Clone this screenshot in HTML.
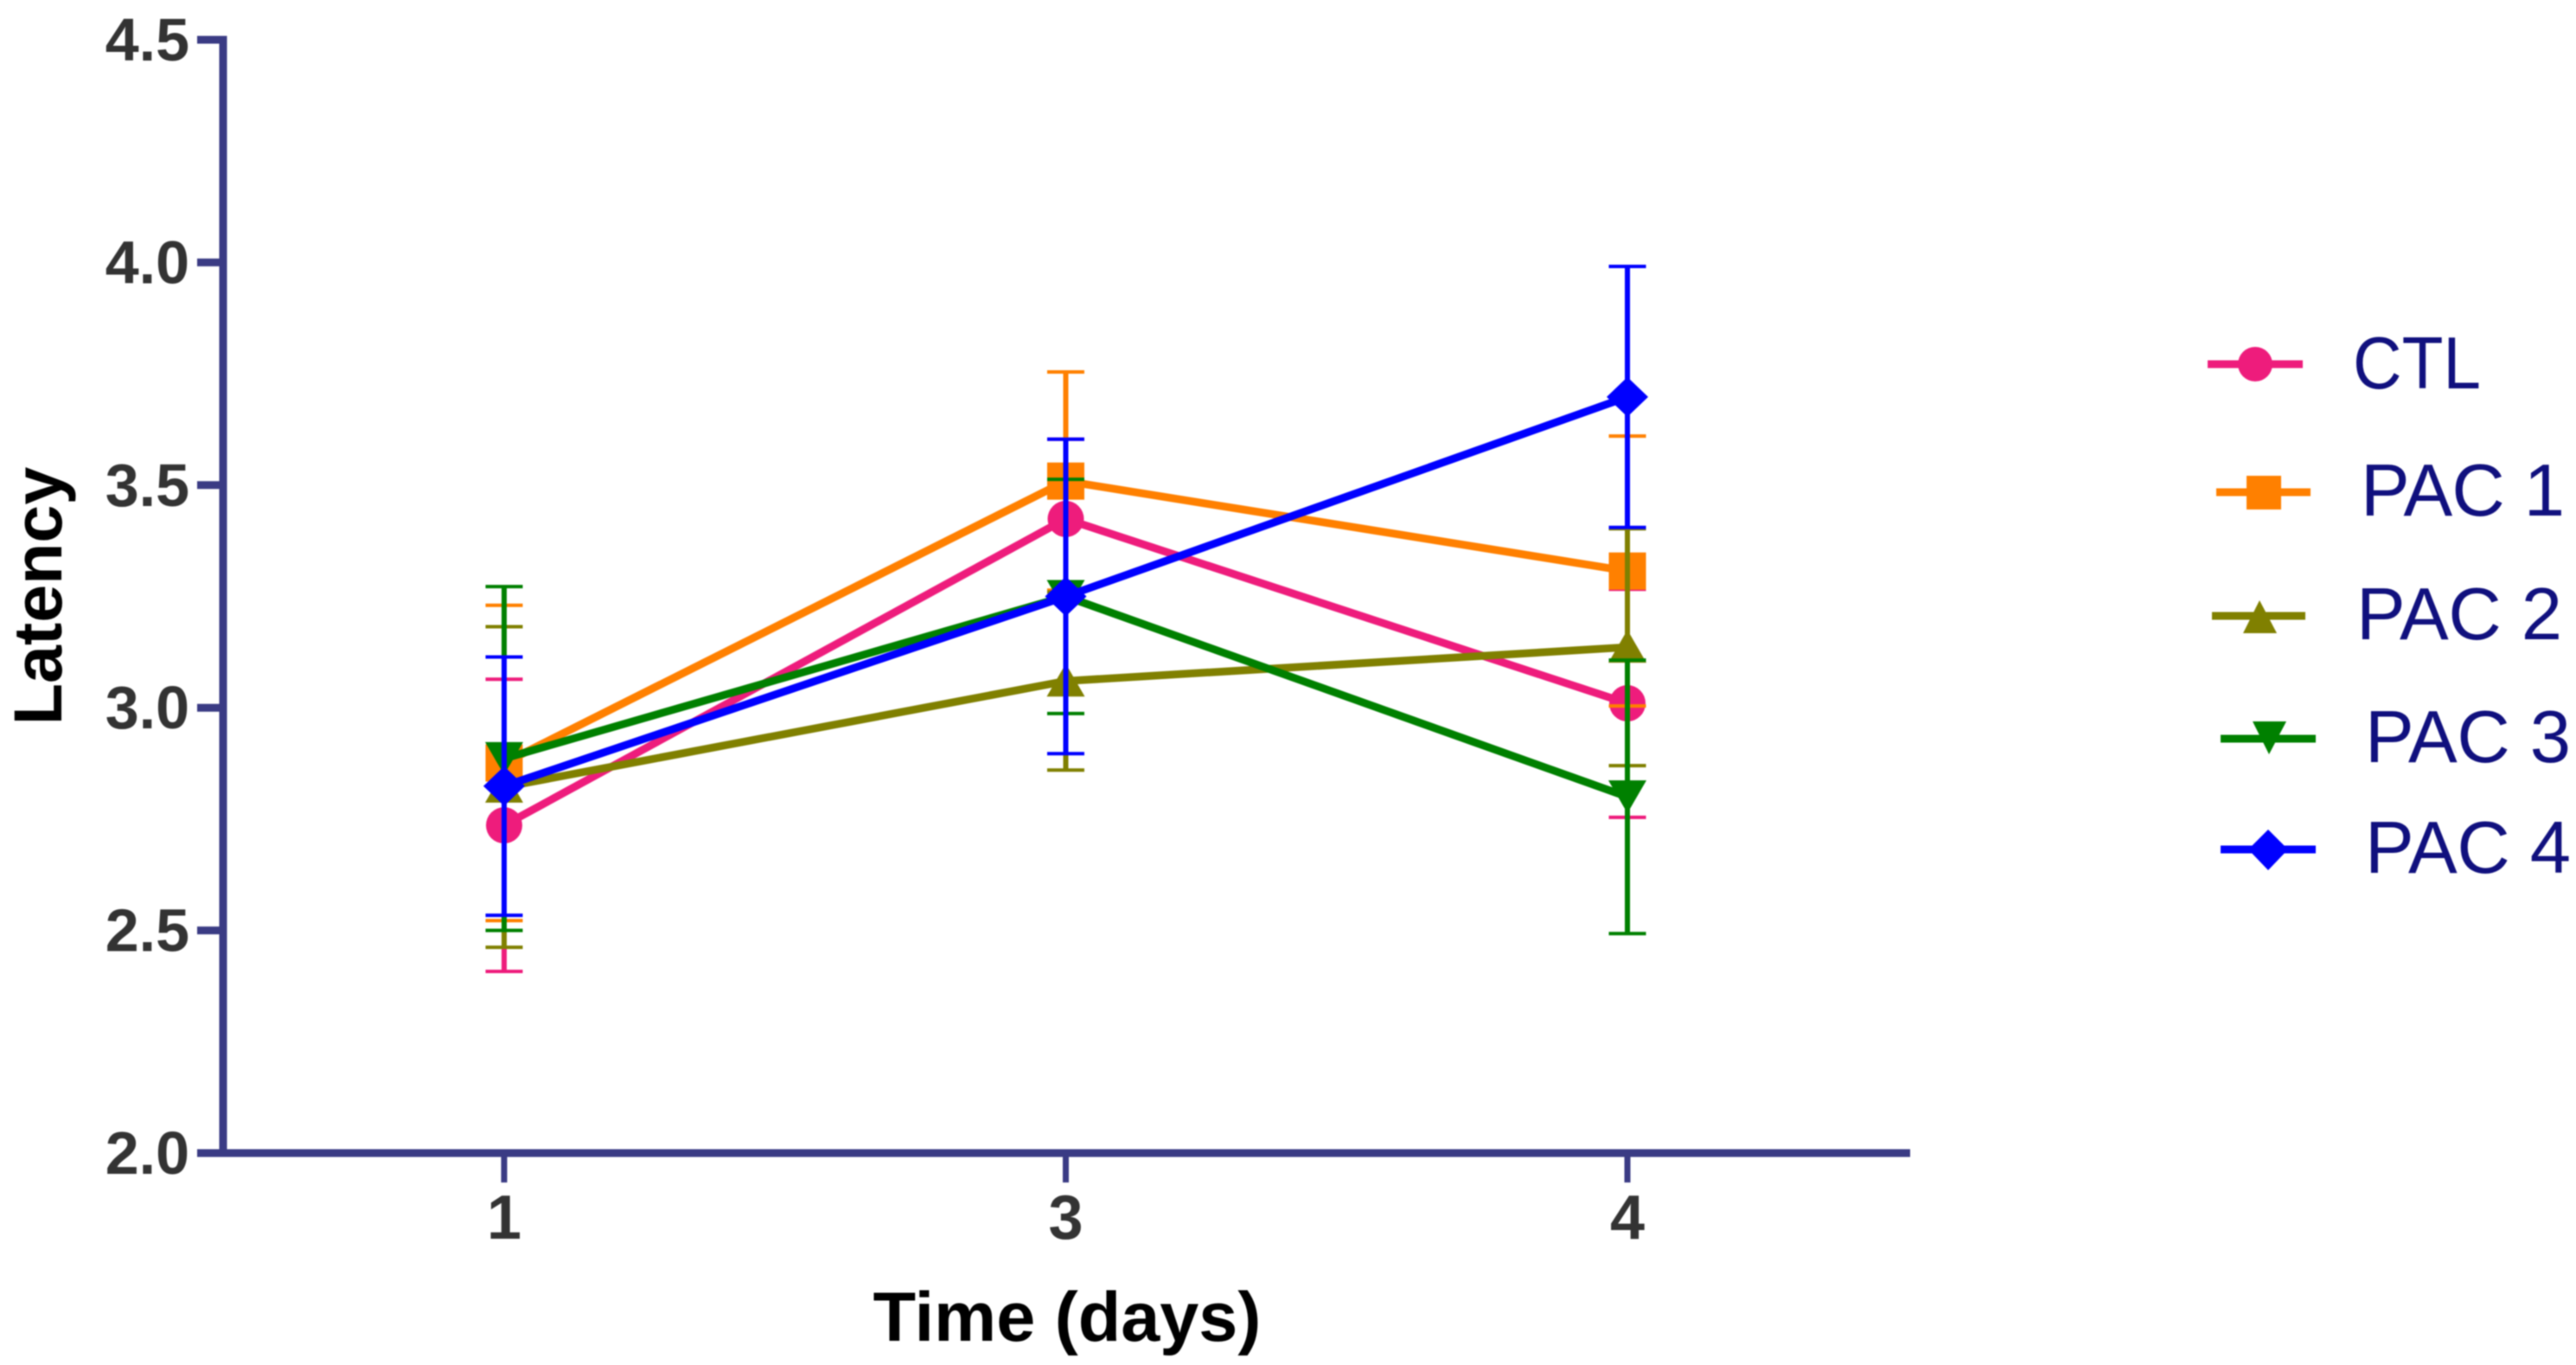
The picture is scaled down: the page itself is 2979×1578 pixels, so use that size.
<!DOCTYPE html>
<html lang="en">
<head>
<meta charset="utf-8">
<title>Latency over time</title>
<style>
  html, body { margin: 0; padding: 0; background: #fff; }
  body { width: 2979px; height: 1578px; overflow: hidden; }
  svg { display: block; filter: blur(0.9px); }
  text { font-family: "Liberation Sans", Arial, sans-serif; }
</style>
</head>
<body>
<svg id="chart" xmlns="http://www.w3.org/2000/svg" width="2979" height="1578" viewBox="0 0 2979 1578">
  <rect x="0" y="0" width="2979" height="1578" fill="#ffffff"/>
  <g id="axes"></g>
  <g id="plot"></g>

  <text transform="translate(71 689) rotate(-90)" text-anchor="middle" font-size="79" font-weight="700" fill="#000">Latency</text>
  <text x="1234" y="1550" text-anchor="middle" font-size="81" font-weight="700" fill="#000">Time (days)</text>

  <g fill="#10107e" font-size="85">
    <g>
      <line x1="2553" y1="421" x2="2663" y2="421" stroke="#ee1c7c" stroke-width="9"/>
      <circle cx="2608" cy="421" r="20" fill="#ee1c7c"/>
      <text x="2721" y="449" textLength="148" lengthAdjust="spacingAndGlyphs">CTL</text>
    </g>
    <g>
      <line x1="2563" y1="569" x2="2672" y2="569" stroke="#ff8000" stroke-width="9"/>
      <rect x="2598" y="550" width="40" height="39" fill="#ff8000"/>
      <text x="2730" y="596" textLength="236" lengthAdjust="spacing">PAC 1</text>
    </g>
    <g>
      <line x1="2558" y1="712" x2="2666" y2="712" stroke="#808000" stroke-width="9"/>
      <polygon points="2613,694 2633,732 2594,732" fill="#808000"/>
      <text x="2725" y="739" textLength="238" lengthAdjust="spacing">PAC 2</text>
    </g>
    <g>
      <line x1="2568" y1="854" x2="2678" y2="854" stroke="#008000" stroke-width="9"/>
      <polygon points="2605,834 2644,834 2624,872" fill="#008000"/>
      <text x="2735" y="881" textLength="238" lengthAdjust="spacing">PAC 3</text>
    </g>
    <g>
      <line x1="2568" y1="982" x2="2678" y2="982" stroke="#0000ff" stroke-width="9"/>
      <polygon points="2623,959 2646,982 2623,1006 2600,982" fill="#0000ff"/>
      <text x="2735" y="1009" textLength="238" lengthAdjust="spacing">PAC 4</text>
    </g>
  </g>
</svg>

<script>
const dayLabels = ['1', '3', '4'];
const yTickValues = [2.0, 2.5, 3.0, 3.5, 4.0, 4.5];

const ctlMean = [2.736, 3.424, 3.010];
const ctlError = [0.328, 0.179, 0.256];
const pac1Mean = [2.876, 3.509, 3.307];
const pac1Error = [0.354, 0.245, 0.303];
const pac2Mean = [2.822, 3.060, 3.136];
const pac2Error = [0.360, 0.200, 0.266];
const pac3Mean = [2.886, 3.250, 2.800];
const pac3Error = [0.386, 0.263, 0.307];
const pac4Mean = [2.824, 3.250, 3.698];
const pac4Error = [0.290, 0.353, 0.293];

const seriesList = [
  { key: 'ctl', mean: ctlMean, error: ctlError, color: '#ee1c7c', marker: 'circle' },
  { key: 'pac-1', mean: pac1Mean, error: pac1Error, color: '#ff8000', marker: 'square' },
  { key: 'pac-2', mean: pac2Mean, error: pac2Error, color: '#808000', marker: 'triangle-up' },
  { key: 'pac-3', mean: pac3Mean, error: pac3Error, color: '#008000', marker: 'triangle-down' },
  { key: 'pac-4', mean: pac4Mean, error: pac4Error, color: '#0000ff', marker: 'diamond' }
];

const SVG_NS = 'http://www.w3.org/2000/svg';
const AXIS_COLOR = '#3a3b84';
const X_FIRST = 583;
const X_STEP = 649.5;
const Y_BASE = 1333;
const Y_UNIT = 514.8;
const Y_MIN = 2;

function xScale(index) {
  return X_FIRST + index * X_STEP;
}
function yScale(value) {
  return Y_BASE - (value - Y_MIN) * Y_UNIT;
}
function make(tag, attrs, parent) {
  const el = document.createElementNS(SVG_NS, tag);
  for (const k in attrs) el.setAttribute(k, attrs[k]);
  parent.appendChild(el);
  return el;
}

const axes = document.getElementById('axes');
const plot = document.getElementById('plot');

function drawAxes() {
  const yAxis = make('line', { x1: 258, x2: 258, y1: yScale(4.5) - 4.5, y2: Y_BASE, stroke: AXIS_COLOR, 'stroke-width': 9 }, axes);
  
  

  const xAxis = make('line', { x1: 228, x2: 2209, y1: Y_BASE, y2: Y_BASE, stroke: AXIS_COLOR, 'stroke-width': 9 }, axes);
  
  

  yTickValues.forEach(function (v) {
    const tick = make('line', { x1: 228, x2: 258, y1: yScale(v), y2: yScale(v), stroke: AXIS_COLOR, 'stroke-width': 9 }, axes);
    
    

    const label = make('text', { x: 219, y: yScale(v) + 24, 'text-anchor': 'end', 'font-size': 70, 'font-weight': 700, fill: '#333333' }, axes);
    
    
    label.textContent = v.toFixed(1);
  });

  dayLabels.forEach(function (d, i) {
    const tick = make('line', { x1: xScale(i), x2: xScale(i), y1: Y_BASE, y2: 1367, stroke: AXIS_COLOR, 'stroke-width': 7 }, axes);
    
    

    const label = make('text', { x: xScale(i), y: 1432, 'text-anchor': 'middle', 'font-size': 72, 'font-weight': 700, fill: '#333333' }, axes);
    
    
    label.textContent = d;
  });
}

function drawMarker(group, s, cx, cy) {
  let el;
  if (s.marker === 'circle') {
    el = make('circle', { cx: cx, cy: cy, r: 21, fill: s.color }, group);
  } else if (s.marker === 'square') {
    el = make('rect', { x: cx - 21.5, y: cy - 21.5, width: 43, height: 43, fill: s.color }, group);
  } else if (s.marker === 'triangle-up') {
    el = make('polygon', { points: [cx, cy - 20, cx + 22, cy + 18, cx - 22, cy + 18].join(' '), fill: s.color }, group);
  } else if (s.marker === 'triangle-down') {
    el = make('polygon', { points: [cx - 22, cy - 19, cx + 22, cy - 19, cx, cy + 19].join(' '), fill: s.color }, group);
  } else {
    el = make('polygon', { points: [cx, cy - 23, cx + 24, cy, cx, cy + 23, cx - 24, cy].join(' '), fill: s.color }, group);
  }
  return el;
}

function drawSeries(s) {
  const group = make('g', {}, plot);
  
  

  const pts = s.mean.map(function (v, i) { return xScale(i) + ',' + yScale(v); }).join(' ');
  const path = make('polyline', { points: pts, fill: 'none', stroke: s.color, 'stroke-width': 9, 'stroke-linejoin': 'miter' }, group);
  
  

  s.mean.forEach(function (v, i) {
    const cx = xScale(i);
    const cy = yScale(v);
    const top = yScale(v + s.error[i]);
    const bottom = yScale(v - s.error[i]);

    const marker = drawMarker(group, s, cx, cy);
    
    

    const stem = make('line', { x1: cx, x2: cx, y1: top, y2: bottom, stroke: s.color, 'stroke-width': 6 }, group);
    
    

    const capTop = make('line', { x1: cx - 21.5, x2: cx + 21.5, y1: top, y2: top, stroke: s.color, 'stroke-width': 4 }, group);
    
    

    const capBottom = make('line', { x1: cx - 21.5, x2: cx + 21.5, y1: bottom, y2: bottom, stroke: s.color, 'stroke-width': 4 }, group);
    
    
  });
}

drawAxes();
seriesList.forEach(drawSeries);
</script>
</body>
</html>
